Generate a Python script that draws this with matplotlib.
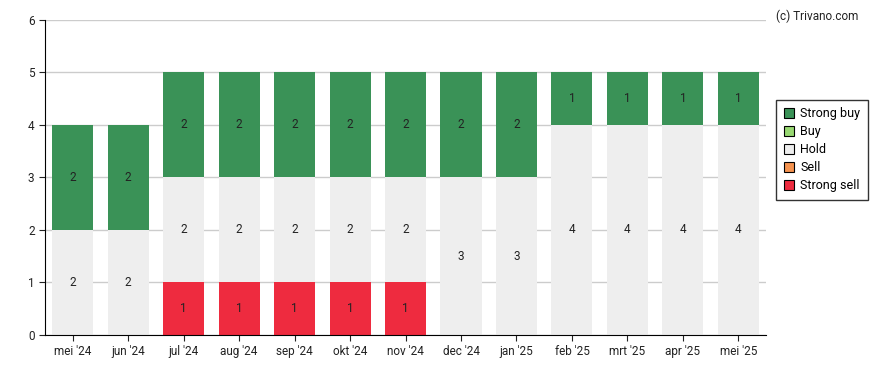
import matplotlib.pyplot as plt
import numpy as np

plt.rcParams['font.family'] = ['Roboto', 'DejaVu Sans']

months = ["mei '24", "jun '24", "jul '24", "aug '24", "sep '24", "okt '24", "nov '24",
          "dec '24", "jan '25", "feb '25", "mrt '25", "apr '25", "mei '25"]
strong_sell = [0, 0, 1, 1, 1, 1, 1, 0, 0, 0, 0, 0, 0]
sell = [0, 0, 0, 0, 0, 0, 0, 0, 0, 0, 0, 0, 0]
hold = [2, 2, 2, 2, 2, 2, 2, 3, 3, 4, 4, 4, 4]
buy = [0, 0, 0, 0, 0, 0, 0, 0, 0, 0, 0, 0, 0]
strong_buy = [2, 2, 2, 2, 2, 2, 2, 2, 2, 1, 1, 1, 1]

series = [("Strong sell", strong_sell, "#ee2b3f"),
          ("Sell", sell, "#f5934f"),
          ("Hold", hold, "#eeeeee"),
          ("Buy", buy, "#98d872"),
          ("Strong buy", strong_buy, "#3a9257")]

fig = plt.figure(figsize=(8.88, 3.70), dpi=100)
ax = fig.add_axes([0.0507, 0.0946, 0.812, 0.8514])

x = np.arange(len(months))
bottom = np.zeros(len(months))
for name, vals, col in series:
    vals = np.array(vals, dtype=float)
    ax.bar(x, vals, 0.74, bottom=bottom, color=col, zorder=2)
    for xi, v, b in zip(x, vals, bottom):
        if v > 0:
            ax.text(xi, b + v / 2, str(int(v)), ha='center', va='center',
                    fontsize=8.5, color='#222222', zorder=3)
    bottom += vals

ax.set_xlim(-0.5, 12.5)
ax.set_ylim(0, 6)
ax.set_yticks(range(7))
ax.set_xticks(x)
ax.set_xticklabels(months)
ax.tick_params(labelsize=8.5, length=4, colors='#222222')
ax.yaxis.grid(True, color='#cccccc', linewidth=1, zorder=0)
ax.set_axisbelow(True)
ax.spines['top'].set_visible(False)
ax.spines['right'].set_visible(False)
ax.spines['left'].set_color('black')
ax.spines['bottom'].set_color('black')

colors = {n: c for n, _, c in series}
order = ["Strong buy", "Buy", "Hold", "Sell", "Strong sell"]
leg_handles = [plt.Rectangle((0, 0), 1, 1, facecolor=colors[n],
                             edgecolor='black', linewidth=0.8) for n in order]
leg = fig.legend(leg_handles, order, loc='upper left', bbox_to_anchor=(0.874, 0.73),
                 fontsize=9, frameon=True, fancybox=False, edgecolor='black',
                 handlelength=0.85, handleheight=0.85, handletextpad=0.5,
                 labelspacing=0.4, borderpad=0.6, borderaxespad=0)
leg.get_frame().set_linewidth(1)

fig.text(0.967, 0.975, "(c) Trivano.com", ha='right', va='top', fontsize=8.5, color='#222222')

fig.savefig("out.png", dpi=100)
